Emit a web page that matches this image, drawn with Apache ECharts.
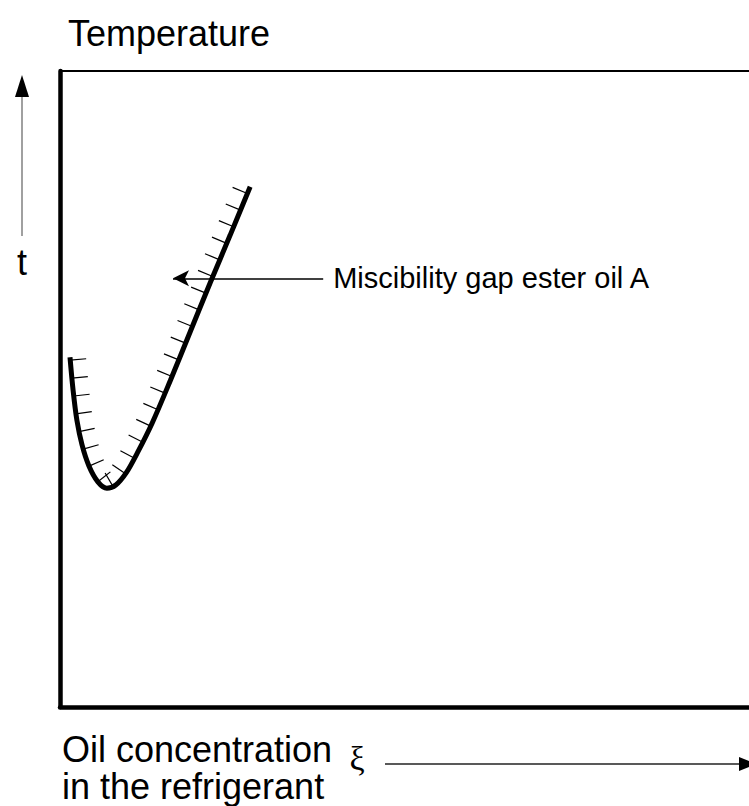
<!DOCTYPE html>
<html><head><meta charset="utf-8">
<script src="https://cdn.jsdelivr.net/npm/echarts@6/dist/echarts.min.js"></script>
<style>html,body{margin:0;padding:0;background:#fff}#c{width:749px;height:806px}</style>
</head><body><div id="c"></div>
<script>
// ---- data (x: oil concentration, y: temperature; arbitrary units 0..100) ----
const curveX = [1.45, 1.9, 2.45, 3.2, 4.2, 5.5, 6.8, 8.1, 9.6, 11.3, 13.4, 16.0, 18.9, 21.8, 24.7, 27.6];
const curveY = [55.0, 49.8, 45.1, 41.2, 37.9, 35.4, 34.4, 34.9, 36.8, 40.1, 44.7, 51.3, 59.0, 66.7, 74.2, 81.8];
const gapLabel = 'Miscibility gap ester oil A';
const annotTip = [16.4, 67.4];
const annotTail = [38.2, 67.4];
const yTitle = 'Temperature';
const ySymbol = 't';
const xTitleLines = ['Oil concentration', 'in the refrigerant'];
const xSymbol = 'ξ';

const FONT = '"Liberation Sans", Arial, sans-serif';

function hatchItem(params, api) {
  if (params.dataIndex !== 0) return null;
  const pts = curveX.map((x, i) => api.coord([x, curveY[i]]));
  const n = pts.length, dense = [], steps = 24;
  for (let i = 0; i < n - 1; i++) {
    const p0 = pts[Math.max(i - 1, 0)], p1 = pts[i], p2 = pts[i + 1], p3 = pts[Math.min(i + 2, n - 1)];
    for (let s = 0; s < steps; s++) {
      const t = s / steps, t2 = t * t, t3 = t2 * t;
      const f = (a, b, c, d) => 0.5 * ((2 * b) + (-a + c) * t + (2 * a - 5 * b + 4 * c - d) * t2 + (-a + 3 * b - 3 * c + d) * t3);
      dense.push([f(p0[0], p1[0], p2[0], p3[0]), f(p0[1], p1[1], p2[1], p3[1])]);
    }
  }
  dense.push(pts[n - 1]);
  const spacing = 18, L = 16;
  let next = 3, acc = 0;
  const children = [];
  for (let j = 1; j < dense.length; j++) {
    const dx = dense[j][0] - dense[j - 1][0], dy = dense[j][1] - dense[j - 1][1];
    const seg = Math.hypot(dx, dy);
    if (seg === 0) continue;
    while (acc + seg >= next) {
      const f = (next - acc) / seg;
      const px = dense[j - 1][0] + dx * f, py = dense[j - 1][1] + dy * f;
      const tx = dx / seg, ty = dy / seg;
      const nx = ty, ny = -tx;
      children.push({ type: 'line', shape: { x1: px, y1: py, x2: px + nx * L, y2: py + ny * L },
        style: { stroke: '#000', lineWidth: 1.2 } });
      next += spacing;
    }
    acc += seg;
  }
  return { type: 'group', children };
}

const chart = echarts.init(document.getElementById('c'), null, { renderer: 'svg' });
chart.setOption({
  backgroundColor: '#fff',
  animation: false,
  grid: { left: 60, top: 71, right: 0, bottom: 99 },
  xAxis: [
    { type: 'value', min: 0, max: 100, position: 'bottom',
      axisLine: { show: true, onZero: false, lineStyle: { color: '#000', width: 4.5 } },
      axisTick: { show: false }, axisLabel: { show: false }, splitLine: { show: false } },
    { type: 'value', min: 0, max: 100, position: 'top',
      axisLine: { show: true, onZero: false, lineStyle: { color: '#000', width: 2 } },
      axisTick: { show: false }, axisLabel: { show: false }, splitLine: { show: false } }
  ],
  yAxis: { type: 'value', min: 0, max: 100,
    axisLine: { show: true, onZero: false, lineStyle: { color: '#000', width: 4.5 } },
    axisTick: { show: false }, axisLabel: { show: false }, splitLine: { show: false } },
  series: [
    { type: 'line', xAxisIndex: 0, data: curveX.map((x, i) => [x, curveY[i]]),
      smooth: 0.33, symbol: 'none', lineStyle: { color: '#000', width: 5 },
      z: 3,
      markLine: {
        silent: true, symbol: ['arrow', 'none'], symbolSize: [12, 16],
        lineStyle: { color: '#000', width: 1.5, type: 'solid' },
        label: { show: true, position: 'end', distance: 10, formatter: gapLabel,
          color: '#000', fontSize: 29, fontFamily: FONT },
        data: [[{ coord: annotTip }, { coord: annotTail }]]
      }
    },
    { type: 'custom', xAxisIndex: 0, data: curveX.map((x, i) => [x, curveY[i]]),
      renderItem: hatchItem, silent: true, clip: false, z: 2 }
  ],
  graphic: [
    { type: 'text', x: 68, y: 33, style: { text: yTitle, font: '36px ' + FONT, fill: '#000', align: 'left', verticalAlign: 'middle' } },
    { type: 'text', x: 22, y: 262, style: { text: ySymbol, font: '36px ' + FONT, fill: '#000', align: 'center', verticalAlign: 'middle' } },
    { type: 'line', shape: { x1: 22, y1: 236, x2: 22, y2: 92 }, style: { stroke: '#808080', lineWidth: 1.5 } },
    { type: 'polygon', shape: { points: [[22, 75], [15, 97], [29, 97]] }, style: { fill: '#000' } },
    { type: 'text', x: 62, y: 768, style: { text: xTitleLines.join('\n'), font: '36px ' + FONT, lineHeight: 37, fill: '#000', align: 'left', verticalAlign: 'middle' } },
    { type: 'text', x: 357, y: 758, style: { text: xSymbol, font: '34px "Liberation Serif", serif', fill: '#000', align: 'center', verticalAlign: 'middle' } },
    { type: 'line', shape: { x1: 385, y1: 764, x2: 742, y2: 764 }, style: { stroke: '#222', lineWidth: 1.5 } },
    { type: 'polygon', shape: { points: [[756, 764], [739, 757], [739, 771]] }, style: { fill: '#000' } }
  ]
});
</script></body></html>
